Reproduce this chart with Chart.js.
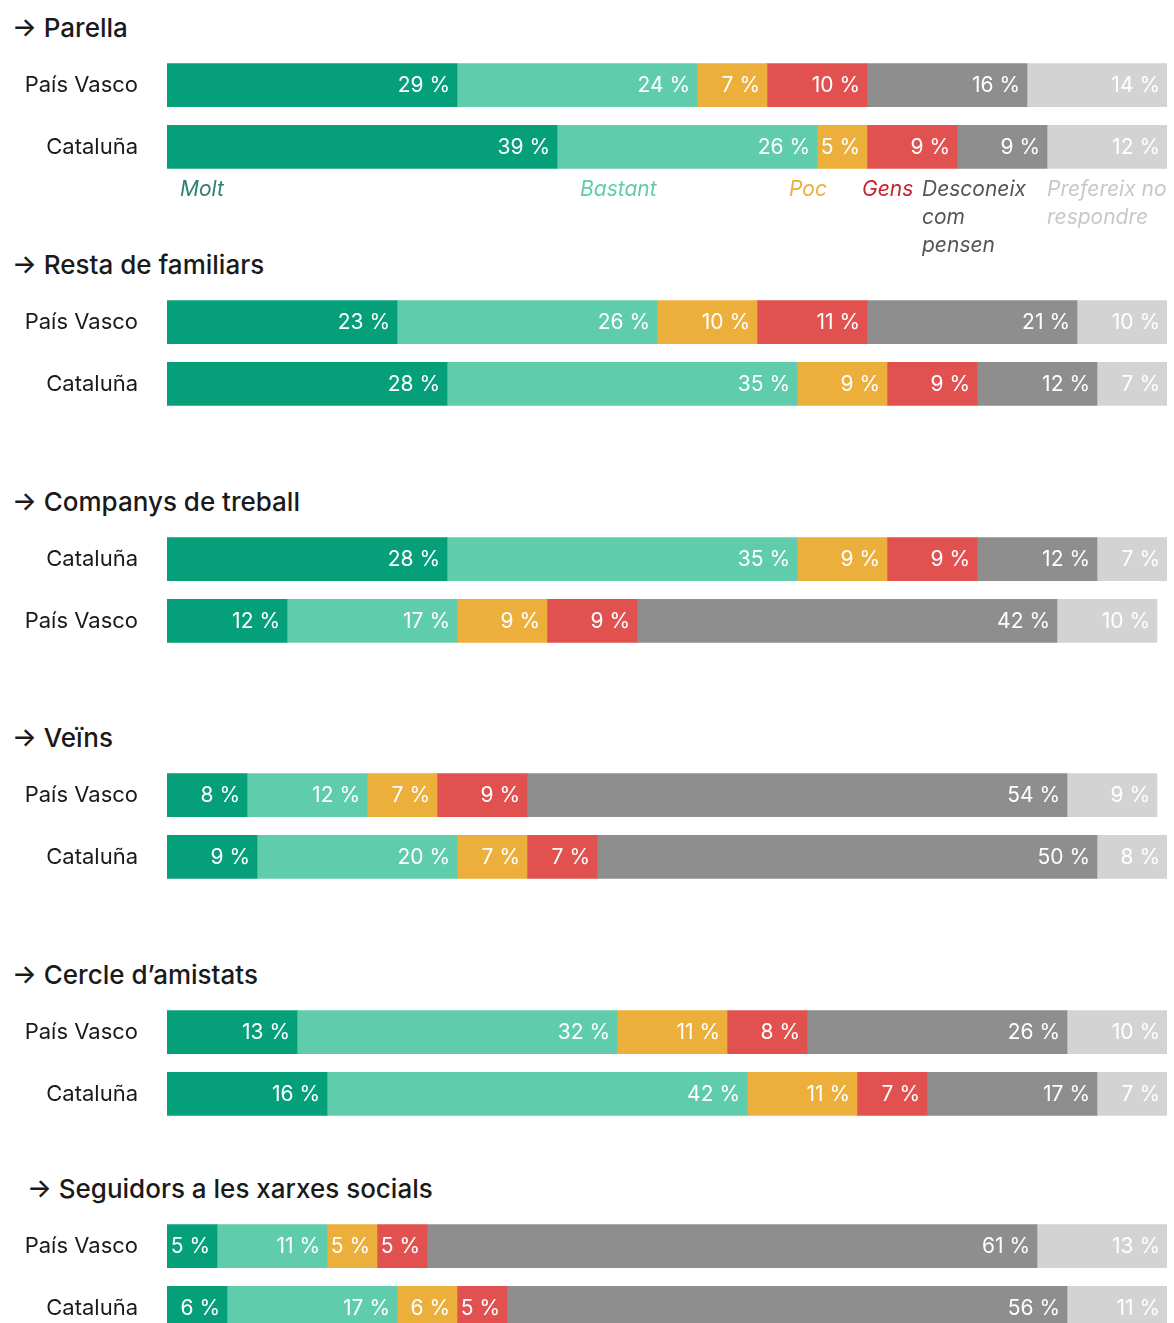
<!DOCTYPE html>
<html>
<head>
<meta charset="utf-8">
<script src="https://cdn.jsdelivr.net/npm/chart.js@4/dist/chart.umd.min.js"></script>
<style>
  body { margin: 0; background: #fff; font-family: Inter, "Noto Sans", sans-serif; }
  #page { position: relative; width: 1174px; height: 1323px; overflow: hidden; }
  .title { position: absolute; font-size: 26px; font-weight: 500; color: #1a1a1a; white-space: nowrap; line-height: 30px; }
  .box { position: absolute; left: 0; width: 1174px; height: 150px; }
  .box canvas { display: block; }
  .leg { position: absolute; font-size: 21px; font-style: italic; line-height: 28px; white-space: nowrap; }
</style>
</head>
<body>
<div id="page"></div>
<script>
const categories = ['Molt', 'Bastant', 'Poc', 'Gens', 'Desconeix com pensen', 'Prefereix no respondre'];
const colors = ['#05a07a', '#5fcdab', '#ecaf3c', '#e1514f', '#8e8e8e', '#d3d3d3'];
const legendColors = ['#2e7f71', '#5fcdab', '#ecaf3c', '#c4252c', '#555555', '#c8c8c8'];

const titles = ['Parella', 'Resta de familiars', 'Companys de treball', 'Veïns', 'Cercle d\u2019amistats', 'Seguidors a les xarxes socials'];

const parellaRows = ['País Vasco', 'Cataluña'];
const parellaPV = [29, 24, 7, 10, 16, 14];
const parellaCat = [39, 26, 5, 9, 9, 12];

const familiarsRows = ['País Vasco', 'Cataluña'];
const familiarsPV = [23, 26, 10, 11, 21, 10];
const familiarsCat = [28, 35, 9, 9, 12, 7];

const treballRows = ['Cataluña', 'País Vasco'];
const treballCat = [28, 35, 9, 9, 12, 7];
const treballPV = [12, 17, 9, 9, 42, 10];

const veinsRows = ['País Vasco', 'Cataluña'];
const veinsPV = [8, 12, 7, 9, 54, 9];
const veinsCat = [9, 20, 7, 7, 50, 8];

const amistatsRows = ['País Vasco', 'Cataluña'];
const amistatsPV = [13, 32, 11, 8, 26, 10];
const amistatsCat = [16, 42, 11, 7, 17, 7];

const xarxesRows = ['País Vasco', 'Cataluña'];
const xarxesPV = [5, 11, 5, 5, 61, 13];
const xarxesCat = [6, 17, 6, 5, 56, 11];

const sections = [
  { rows: parellaRows, values: [parellaPV, parellaCat] },
  { rows: familiarsRows, values: [familiarsPV, familiarsCat] },
  { rows: treballRows, values: [treballCat, treballPV] },
  { rows: veinsRows, values: [veinsPV, veinsCat] },
  { rows: amistatsRows, values: [amistatsPV, amistatsCat] },
  { rows: xarxesRows, values: [xarxesPV, xarxesCat] }
];

// layout: title centre y for each block, and title left
const titleY = [28, 265, 502, 738, 975, 1189];
const titleX = [12, 12, 12, 12, 12, 27];

const page = document.getElementById('page');

// white % labels at the right end of every segment
const segmentLabels = {
  id: 'segmentLabels',
  afterDatasetsDraw(chart) {
    const ctx = chart.ctx;
    const right = chart.chartArea.right;
    ctx.save();
    ctx.font = '400 21px Inter, "Noto Sans", sans-serif';
    ctx.fillStyle = '#ffffff';
    ctx.textAlign = 'right';
    ctx.textBaseline = 'middle';
    chart.data.datasets.forEach((ds, i) => {
      chart.getDatasetMeta(i).data.forEach((bar, j) => {
        const x = Math.min(bar.x, right) - 7;
        ctx.fillText(ds.data[j] + ' %', x, bar.y + 1);
      });
    });
    ctx.restore();
  }
};

sections.forEach((sec, s) => {
  const t = document.createElement('div');
  t.className = 'title';
  t.style.left = titleX[s] + 'px';
  t.style.top = (titleY[s] - 15) + 'px';
  t.textContent = '\u2192 ' + titles[s];
  page.appendChild(t);

  // canvas is 13px taller on each side: the axis keeps half a label height as padding
  const box = document.createElement('div');
  box.className = 'box';
  box.style.top = (titleY[s] + 13) + 'px';
  const canvas = document.createElement('canvas');
  canvas.width = 1174;
  canvas.height = 150;
  box.appendChild(canvas);
  page.appendChild(box);

  const datasets = categories.map((cat, c) => ({
    label: cat,
    data: sec.values.map(row => row[c]),
    backgroundColor: colors[c],
    borderWidth: 0,
    barThickness: 43
  }));

  new Chart(canvas, {
    type: 'bar',
    data: { labels: sec.rows, datasets },
    options: {
      indexAxis: 'y',
      responsive: false,
      animation: false,
      devicePixelRatio: 1,
      layout: { padding: { left: 0, right: 7, top: 0, bottom: 0 } },
      plugins: { legend: { display: false }, tooltip: { enabled: false } },
      scales: {
        x: { stacked: true, min: 0, max: 100, display: false },
        y: {
          stacked: true,
          // invisible tick marks only push the labels away from the bars
          grid: { display: true, drawOnChartArea: false, drawTicks: true, tickLength: 29, color: 'rgba(0,0,0,0)' },
          border: { display: false },
          ticks: { color: '#1a1a1a', padding: 0, font: { family: 'Inter', size: 22 } },
          afterFit: (scale) => { scale.width = 167; }
        }
      }
    },
    plugins: [segmentLabels]
  });
});

// category names under the first block
const legendItems = [
  { c: 0, lines: ['Molt'], x: 180 },
  { c: 1, lines: ['Bastant'], x: 580 },
  { c: 2, lines: ['Poc'], x: 789 },
  { c: 3, lines: ['Gens'], x: 862 },
  { c: 4, lines: ['Desconeix', 'com', 'pensen'], x: 922 },
  { c: 5, lines: ['Prefereix no', 'respondre'], x: 1047 }
];
legendItems.forEach(item => {
  const d = document.createElement('div');
  d.className = 'leg';
  d.style.left = item.x + 'px';
  d.style.top = '175px';
  d.style.color = legendColors[item.c];
  d.innerHTML = item.lines.join('<br>');
  page.appendChild(d);
});
</script>
</body>
</html>
